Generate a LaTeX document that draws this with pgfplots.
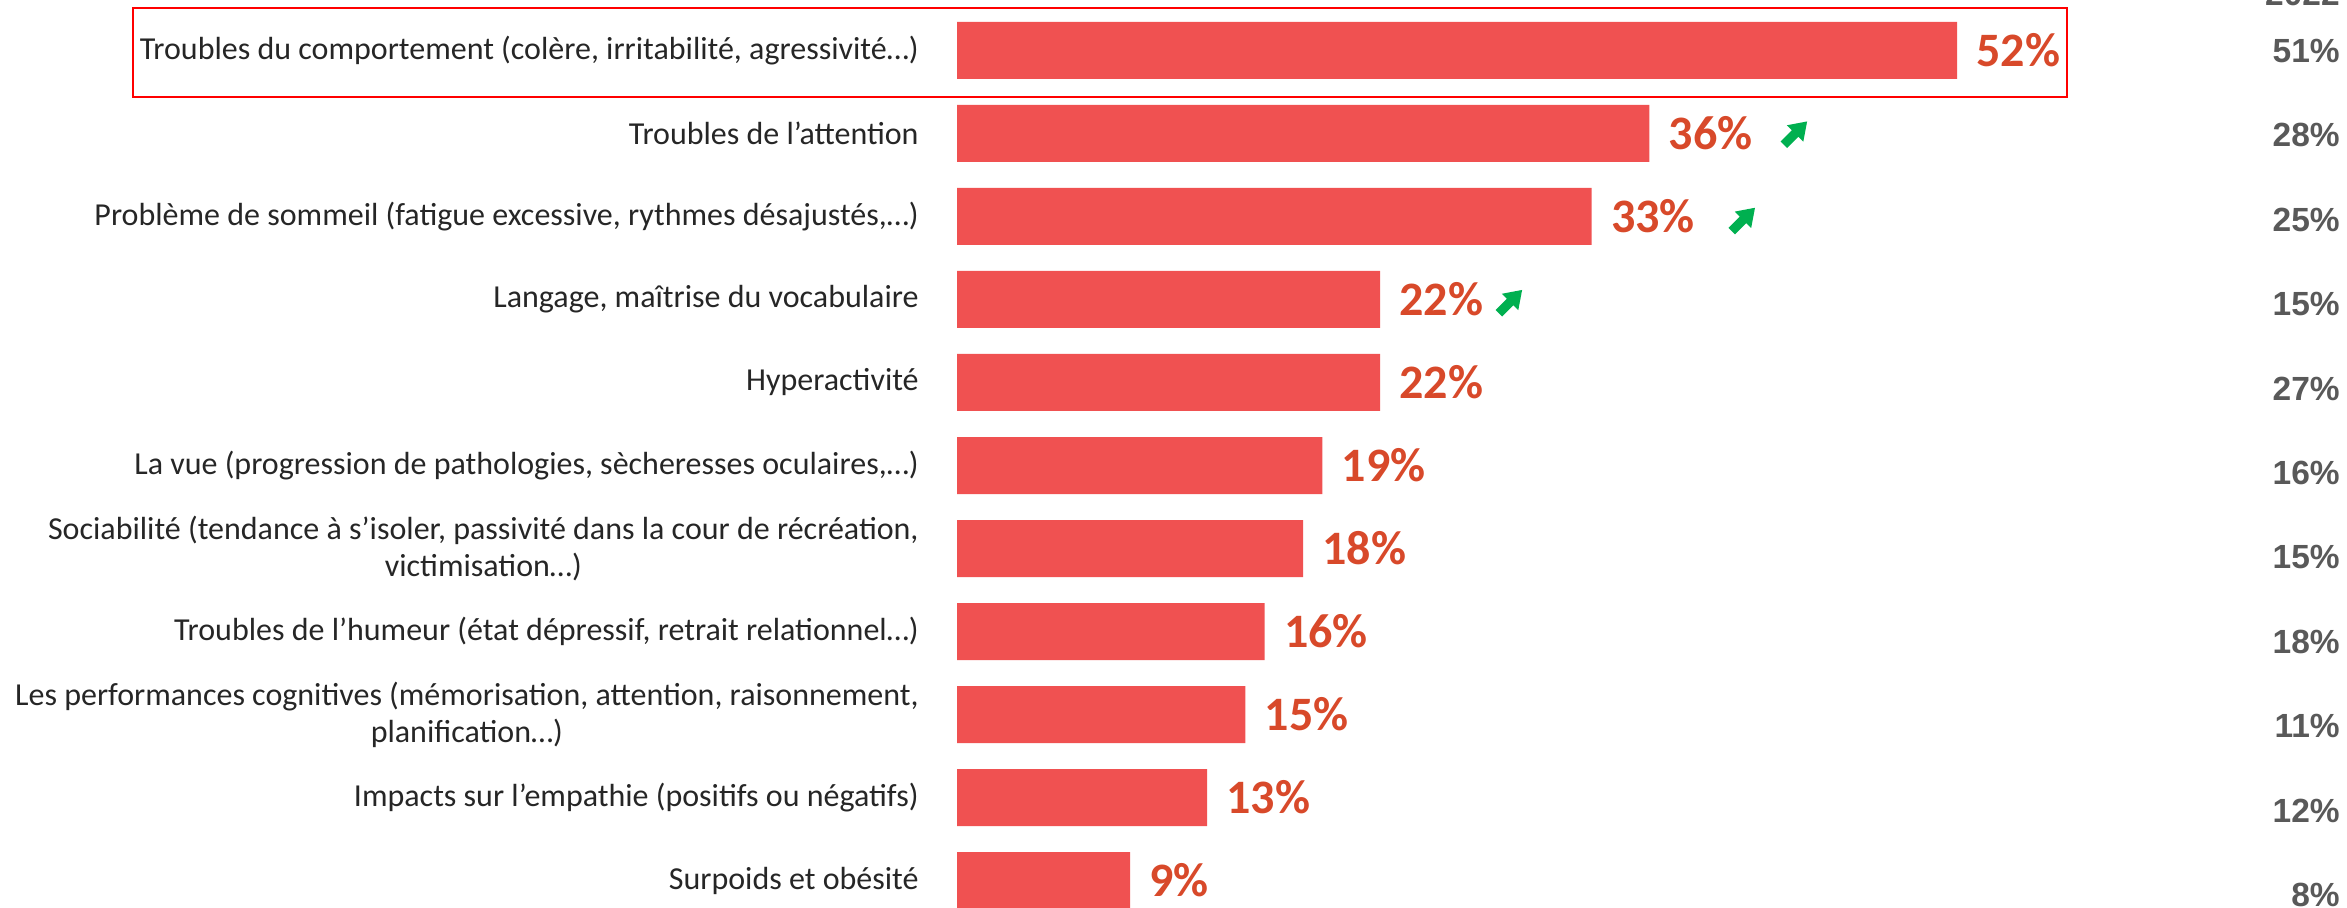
\documentclass[border=0pt]{standalone}
\usepackage{pgfplots}
\pgfplotsset{compat=1.18}
\usepackage{pgfplotstable}
\usepackage{fontspec}
\setmainfont{Carlito}
\newfontfamily\arialfont{Liberation Sans}
\definecolor{barred}{RGB}{240,81,81}
\definecolor{valuered}{RGB}{216,73,42}
\definecolor{gray59}{RGB}{89,89,89}
\definecolor{arrowgreen}{RGB}{0,176,80}
\definecolor{boxred}{RGB}{255,0,0}
\definecolor{labeltext}{RGB}{38,38,38}
\pgfplotstableread{
row val prev
0 52 51
1 36 28
2 33 25
3 22 15
4 22 27
5 19 16
6 18 15
7 16 18
8 15 11
9 13 12
10 9 8
}\datatable
\tikzset{uparrow/.pic={
  \fill[arrowgreen, rotate=45]
    (-8bp,-2.3bp) -- (0,-2.3bp) -- (0,-5.8bp) -- (8.5bp,0) -- (0,5.8bp) -- (0,2.3bp) -- (-8bp,2.3bp) -- cycle;
}}
\begin{document}
\begin{tikzpicture}
\useasboundingbox (0,0) rectangle (1173.5bp,454bp);
\clip (0,0) rectangle (1173.5bp,454bp);
\begin{axis}[
  at={(478.5bp,0)}, anchor=south west,
  scale only axis, width=695bp, height=454bp,
  xmin=0, xmax=72.28, ymin=-0.608, ymax=10.331,
  y dir=reverse, clip=false,
  axis lines=left, axis line style={draw=none},
  xtick=\empty, ytick={0,...,10},
  major tick length=0pt, tick style={draw=none},
  /pgf/number format/assume math mode=true,
  yticklabels={
    {Troubles du comportement (colère, irritabilité, agressivité…)},
    {Troubles de l’attention},
    {Problème de sommeil (fatigue excessive, rythmes désajustés,…)},
    {Langage, maîtrise du vocabulaire},
    {Hyperactivité},
    {La vue (progression de pathologies, sècheresses oculaires,…)},
    {Sociabilité (tendance à s’isoler, passivité dans la cour de récréation,\\ victimisation…)},
    {Troubles de l’humeur (état dépressif, retrait relationnel…)},
    {Les performances cognitives (mémorisation, attention, raisonnement,\\ planification…)},
    {Impacts sur l’empathie (positifs ou négatifs)},
    {Surpoids et obésité}},
  yticklabel style={font=\fontsize{16bp}{18.5bp}\selectfont, text=labeltext, align=center, anchor=east, inner sep=0pt, xshift=-19bp},
]
\addplot[xbar, bar width=28.5bp, fill=barred, draw=none,
  point meta=x,
  nodes near coords={\pgfmathprintnumber{\pgfplotspointmeta}\%},
  every node near coord/.append style={anchor=west, inner sep=0pt, xshift=9.5bp,
    font=\fontsize{24bp}{26bp}\selectfont\bfseries, text=valuered}]
  table[x=val, y=row] {\datatable};
\addplot[draw=none, mark=none, point meta=explicit,
  nodes near coords={\pgfmathprintnumber{\pgfplotspointmeta}\%},
  every node near coord/.append style={anchor=east, inner sep=0pt,
    font=\arialfont\fontsize{16.75bp}{18bp}\selectfont\bfseries, text=gray59}]
  table[x expr=71.92, y expr=\thisrow{row}*1.0169+0.006, meta=prev] {\datatable};
\node[anchor=east, inner sep=0pt, font=\arialfont\fontsize{16.75bp}{18bp}\selectfont\bfseries, text=gray59] at (axis cs:71.92,-0.68) {2022};
\draw[boxred, line width=1bp] (axis cs:-42.85,-0.512) rectangle (axis cs:57.72,0.560);
\coordinate (a1) at (axis cs:43.58,1.0);
\coordinate (a2) at (axis cs:40.87,2.04);
\coordinate (a3) at (axis cs:28.76,3.03);
\end{axis}
\pic at (a1) {uparrow};
\pic at (a2) {uparrow};
\pic at (a3) {uparrow};
\end{tikzpicture}
\end{document}
